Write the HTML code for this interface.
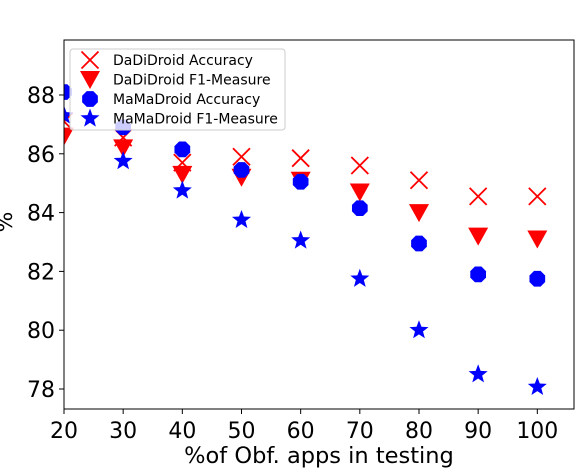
<!DOCTYPE html>
<html><head><meta charset="utf-8"><style>
body{margin:0;background:#fff;}
svg{font-family:"DejaVu Sans","Liberation Sans",sans-serif;}
</style></head><body>
<svg id="chart" width="578" height="468" xmlns="http://www.w3.org/2000/svg">
<g id="marks"></g>
<g id="axes"></g>
</svg>
<script>
const categories=[20,30,40,50,60,70,80,90,100];
const dadiAcc=[87.1,86.55,85.7,85.9,85.85,85.6,85.1,84.55,84.55];
const dadiF1=[86.6,86.2,85.3,85.2,85.1,84.7,84.0,83.2,83.1];
const mamaAcc=[88.1,86.9,86.15,85.45,85.05,84.15,82.95,81.9,81.75];
const mamaF1=[87.3,85.75,84.75,83.75,83.05,81.75,80.0,78.5,78.07];
const yTicks=[78,80,82,84,86,88];
const xTicks=[20,30,40,50,60,70,80,90,100];
const L=64,R=574,T=40,B=409;
const X0=20,X1=106.2,Y0=77.32,Y1=89.87;
const xs=v=>L+(v-X0)/(X1-X0)*(R-L);
const ys=v=>B-(v-Y0)/(Y1-Y0)*(B-T);
const NS="http://www.w3.org/2000/svg";
const marks=document.getElementById('marks'),axes=document.getElementById('axes');
function mk(tag,attrs,parent){const e=document.createElementNS(NS,tag);for(const k in attrs)e.setAttribute(k,attrs[k]);parent.appendChild(e);return e;}
const clip=mk('clipPath',{id:'cp'},document.getElementById('chart'));
mk('rect',{x:L,y:T,width:R-L,height:B-T},clip);
marks.setAttribute('clip-path','url(#cp)');
function cross(x,y,p){const s=8.5;return mk('path',{d:`M${x-s},${y-s}L${x+s},${y+s}M${x-s},${y+s}L${x+s},${y-s}`,stroke:'#ff0000','stroke-width':1.8,fill:'none'},p);}
function tri(x,y,p){const s=10;return mk('path',{d:`M${x-s},${y-s*0.85}L${x+s},${y-s*0.85}L${x},${y+s*0.95}Z`,fill:'#ff0000'},p);}
function circ(x,y,p){return mk('polygon',{points:Array.from({length:8},(_,i)=>{const a=Math.PI/8+i*Math.PI/4;return (x+8.5*Math.cos(a))+','+(y+8.5*Math.sin(a));}).join(' '),fill:'#0000ff'},p);}
function star(x,y,p){const pts=[];for(let i=0;i<10;i++){const r=i%2?4.2:10;const a=-Math.PI/2+i*Math.PI/5;pts.push((x+r*Math.cos(a))+','+(y+r*Math.sin(a)));}return mk('polygon',{points:pts.join(' '),fill:'#0000ff'},p);}
const series=[[dadiAcc,cross,'dadidroid-accuracy'],[dadiF1,tri,'dadidroid-f1'],[mamaAcc,circ,'mamadroid-accuracy'],[mamaF1,star,'mamadroid-f1']];
series.forEach(([vals,fn,name])=>{vals.forEach((v,i)=>{const e=fn(xs(categories[i]),ys(v),marks);

});});
const fr=mk('rect',{x:L,y:T,width:R-L,height:B-T,fill:'none',stroke:'#000','stroke-width':1},axes);


xTicks.forEach(t=>{const x=xs(t);mk('line',{x1:x,x2:x,y1:B,y2:B+5,stroke:'#000'},axes);
const tx=mk('text',{x:x,y:B+29,'font-size':22,'text-anchor':'middle'},axes);tx.textContent=t;

});
yTicks.forEach(t=>{const y=ys(t);mk('line',{x1:L-5,x2:L,y1:y,y2:y,stroke:'#000'},axes);
const tx=mk('text',{x:L-9,y:y+8,'font-size':22,'text-anchor':'end'},axes);tx.textContent=t;

});
const xt=mk('text',{x:319,y:463,'font-size':22.5,'text-anchor':'middle'},axes);xt.textContent='%of Obf. apps in testing';


const yt=mk('text',{x:12,y:222,'font-size':22,'text-anchor':'middle',transform:'rotate(-90 12 222)'},axes);yt.textContent='%';


const lg=mk('g',{},axes);


mk('rect',{x:70,y:49,width:215,height:81,rx:3,fill:'#fff','fill-opacity':0.8,stroke:'#ccc'},lg);
const labels=['DaDiDroid Accuracy','DaDiDroid F1-Measure','MaMaDroid Accuracy','MaMaDroid F1-Measure'];
series.forEach(([v,fn,name],i)=>{const y=60+i*19.5;fn(90,y,lg);
const t=mk('text',{x:113,y:y+5,'font-size':14},lg);t.textContent=labels[i];

});
</script>
</body></html>
